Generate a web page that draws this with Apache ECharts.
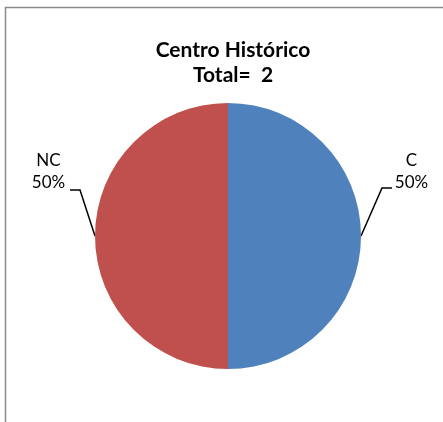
<!DOCTYPE html>
<html>
<head>
<meta charset="utf-8">
<script src="https://cdn.jsdelivr.net/npm/echarts@6/dist/echarts.min.js"></script>
<style>html,body{margin:0;padding:0;background:#fff;}#c{width:443px;height:422px;}</style>
</head>
<body>
<div id="c"></div>
<script>
const titleLines = ['Centro Histórico', 'Total=  2'];
const categories = ['C', 'NC'];
const values = [1, 1];
const colors = ['#4F81BD', '#C0504D'];

const chart = echarts.init(document.getElementById('c'), null, {renderer: 'canvas'});
const total = values.reduce((a, b) => a + b, 0);

chart.setOption({
  animation: false,
  backgroundColor: '#fff',
  title: {
    text: titleLines.join('\n'),
    left: 228,
    textAlign: 'center',
    top: 33,
    textStyle: {fontFamily: 'Lato', fontWeight: 'bold', fontSize: 21, lineHeight: 25, color: '#000'}
  },
  graphic: [{
    type: 'rect',
    shape: {x: 5.5, y: 7.5, width: 600, height: 600},
    style: {fill: 'none', stroke: '#8a8a8a', lineWidth: 1.5},
    silent: true, z: -1
  }],
  series: [{
    type: 'pie',
    center: [228, 236],
    radius: 133,
    startAngle: 90,
    clockwise: true,
    data: categories.map((c, i) => ({name: c, value: values[i], itemStyle: {color: colors[i]}})),
    itemStyle: {borderColor: '#fff', borderWidth: 0},
    label: {
      show: true,
      overflow: 'none',
      width: 80,
      formatter: p => p.name + '\n' + Math.round(p.value / total * 100) + '%',
      fontFamily: 'Lato', fontSize: 17, lineHeight: 22, color: '#000', align: 'center'
    },
    labelLine: {show: true, length: 30, length2: 10, lineStyle: {color: '#000', width: 1.5}},
    labelLayout: function (params) {
      const a = params.labelLinePoints[0];
      if (params.dataIndex === 0) {
        const e = [a[0] + 21, a[1] - 48];
        const f = [e[0] + 10, e[1]];
        return {x: a[0] + 50.5, y: a[1] - 64, align: 'center', verticalAlign: 'middle', labelLinePoints: [a, e, f]};
      } else {
        const e = [a[0] - 15, a[1] - 46];
        const f = [e[0] - 10, e[1]];
        return {x: a[0] - 46.5, y: a[1] - 64, align: 'center', verticalAlign: 'middle', labelLinePoints: [a, e, f]};
      }
    }
  }]
});
</script>
</body>
</html>
